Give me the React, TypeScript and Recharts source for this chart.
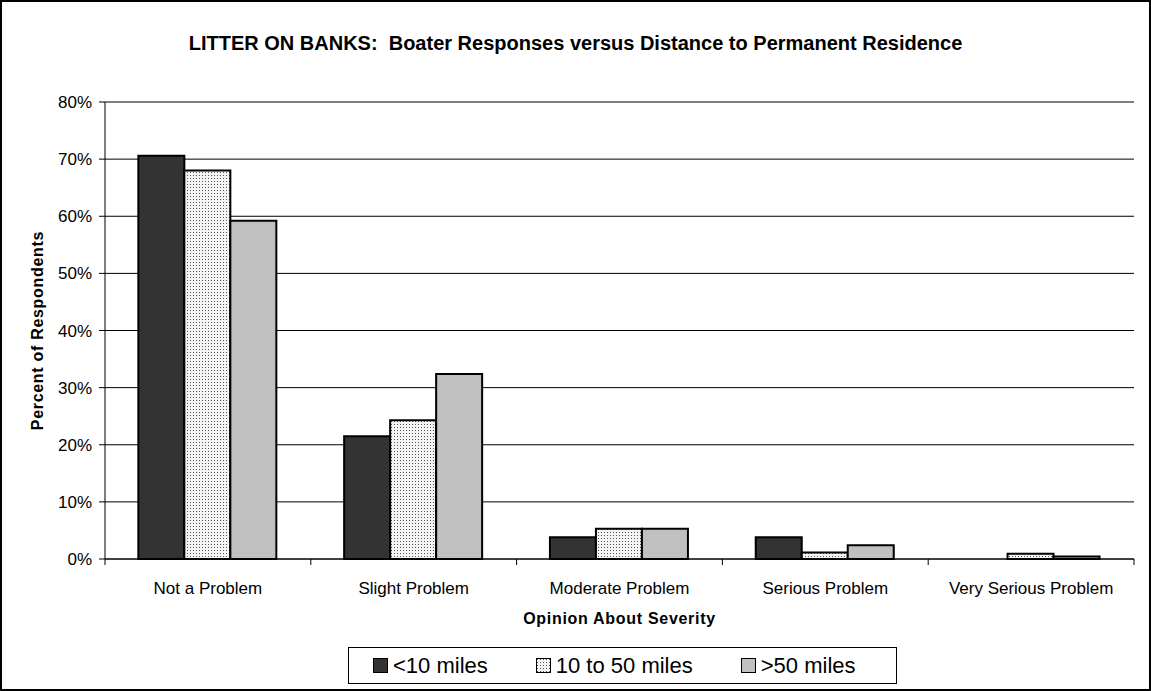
import { Bar, BarChart, CartesianGrid, ReferenceLine, XAxis, YAxis } from 'recharts'

const categories = [
  'Not a Problem',
  'Slight Problem',
  'Moderate Problem',
  'Serious Problem',
  'Very Serious Problem',
]
const under10 = [70.6, 21.5, 3.8, 3.8, 0]
const tenTo50 = [68.0, 24.3, 5.3, 1.15, 0.9]
const over50 = [59.2, 32.4, 5.3, 2.4, 0.45]
const yTicks = [0, 10, 20, 30, 40, 50, 60, 70, 80]

const series = [
  { key: 'under10', name: '<10 miles', fill: '#333333' },
  { key: 'tenTo50', name: '10 to 50 miles', fill: 'url(#dots)' },
  { key: 'over50', name: '>50 miles', fill: '#c0c0c0' },
]

const data = categories.map((name, i) => ({
  name,
  under10: under10[i],
  tenTo50: tenTo50[i],
  over50: over50[i],
}))

const W = 1151
const H = 691
const margin = { top: 102, right: 17, bottom: 62, left: 30 }
const Y_AXIS_W = 75
const PLOT_W = W - margin.left - margin.right - Y_AXIS_W
const BAND = PLOT_W / categories.length
const FONT = '"Liberation Sans", Arial, sans-serif'

if (typeof document !== 'undefined') document.body.style.margin = '0'

function CategoryTick(props: any) {
  const { x, y, payload, index } = props
  const half = BAND / 2
  return (
    <g>
      <line x1={x - half} x2={x - half} y1={y} y2={y + 6} stroke="#000" />
      {index === categories.length - 1 && (
        <line x1={x + half} x2={x + half} y1={y} y2={y + 6} stroke="#000" />
      )}
      <text x={x} y={y + 35} textAnchor="middle" fontSize={17} fill="#000" fontFamily={FONT}>
        {payload.value}
      </text>
    </g>
  )
}

function Swatch({ fill }: { fill: string }) {
  return (
    <svg width={15} height={15} style={{ marginRight: 5 }}>
      <rect x={0.5} y={0.5} width={14} height={14} fill={fill} stroke="#000" />
    </svg>
  )
}

export default function App() {
  return (
    <div
      style={{
        position: 'relative',
        width: W,
        height: H,
        boxSizing: 'border-box',
        border: '2px solid #000',
        background: '#fff',
        fontFamily: FONT,
      }}
    >
      <div
        style={{
          position: 'absolute',
          top: 30,
          left: 0,
          width: W - 4,
          textAlign: 'center',
          fontWeight: 'bold',
          fontSize: 20,
        }}
      >
        LITTER ON BANKS:&nbsp; Boater Responses versus Distance to Permanent Residence
      </div>
      <div style={{ position: 'absolute', left: -2, top: -2 }}>
        <BarChart
          width={W}
          height={H}
          data={data}
          margin={margin}
          barCategoryGap="16.2%"
          barGap={0}
        >
          <defs>
            <pattern id="dots" width={3} height={3} patternUnits="userSpaceOnUse">
              <rect width={3} height={3} fill="#f4f4f4" />
              <rect x={1} y={1} width={1} height={1} fill="#555" />
            </pattern>
          </defs>
          <CartesianGrid vertical={false} stroke="#000" />
          <XAxis
            dataKey="name"
            height={70}
            tickLine={false}
            tickSize={0}
            tickMargin={0}
            tick={<CategoryTick />}
            axisLine={{ stroke: '#000' }}
            interval={0}
            label={{
              value: 'Opinion About Severity',
              position: 'insideBottom',
              offset: 5,
              style: { fontWeight: 'bold', fontSize: 16, letterSpacing: 0.7, fill: '#000', fontFamily: FONT },
            }}
          />
          <YAxis
            width={Y_AXIS_W}
            domain={[0, 80]}
            ticks={yTicks}
            tickFormatter={(v) => `${v}%`}
            tick={{ fill: '#000', fontSize: 17, fontFamily: FONT }}
            tickSize={6}
            tickMargin={7}
            tickLine={{ stroke: '#000' }}
            axisLine={{ stroke: '#000' }}
            label={{
              value: 'Percent of Respondents',
              angle: -90,
              position: 'insideLeft',
              offset: 7,
              style: {
                textAnchor: 'middle',
                fontWeight: 'bold',
                fontSize: 16,
                letterSpacing: 0.7,
                fill: '#000',
                fontFamily: FONT,
              },
            }}
          />
          <YAxis
            yAxisId="frame"
            orientation="right"
            width={0}
            domain={[0, 80]}
            tick={false}
            tickLine={false}
            axisLine={{ stroke: '#808080' }}
          />
          <ReferenceLine y={80} stroke="#808080" />
          {series.map((s) => (
            <Bar
              key={s.key}
              dataKey={s.key}
              name={s.name}
              fill={s.fill}
              stroke="#000"
              strokeWidth={2}
              isAnimationActive={false}
            />
          ))}
        </BarChart>
      </div>
      <div
        style={{
          position: 'absolute',
          left: 346,
          top: 645,
          width: 549,
          height: 37,
          boxSizing: 'border-box',
          border: '1px solid #000',
          background: '#fff',
          display: 'flex',
          alignItems: 'center',
          paddingLeft: 24,
          gap: 48,
          fontSize: 22,
        }}
      >
        {series.map((s) => (
          <div key={s.key} style={{ display: 'flex', alignItems: 'center' }}>
            <Swatch fill={s.fill} />
            <span>{s.name}</span>
          </div>
        ))}
      </div>
    </div>
  )
}
